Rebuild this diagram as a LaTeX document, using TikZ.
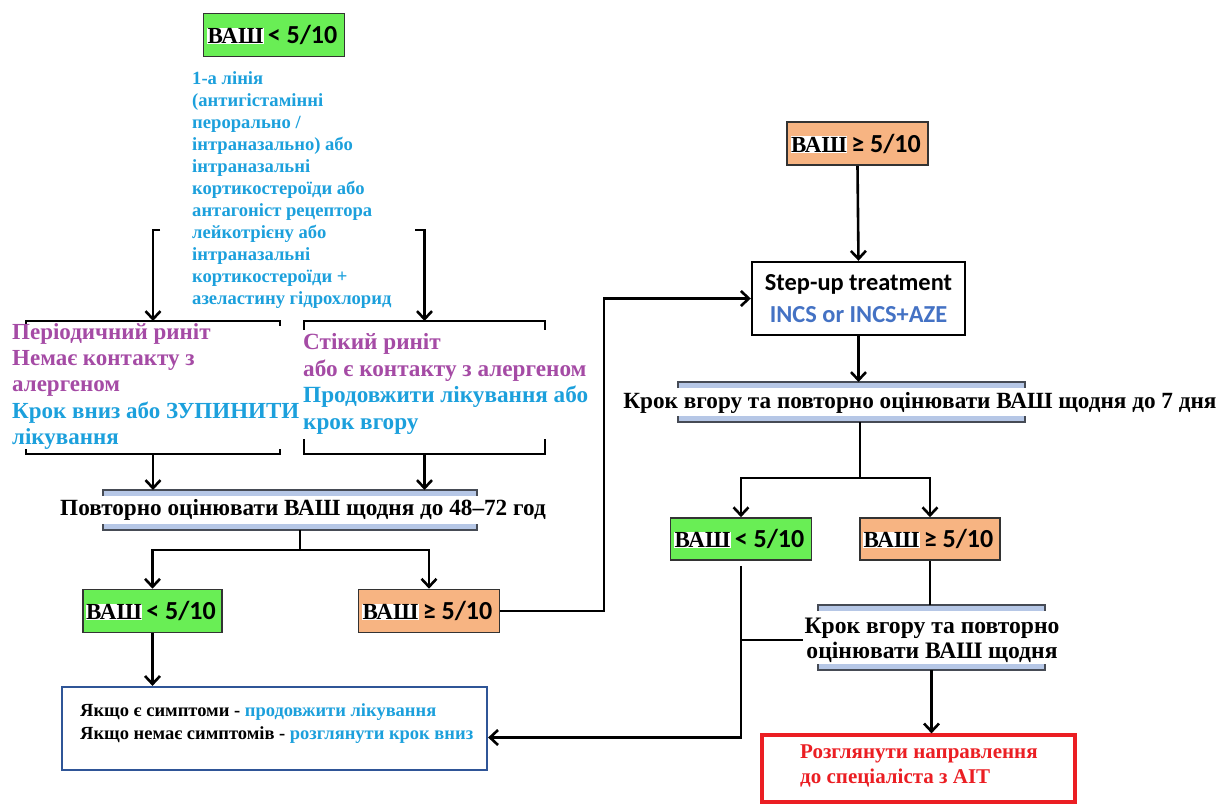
\documentclass[tikz,border=0pt]{standalone}
\usepackage{fontspec}
\setmainfont{Liberation Serif}
\newfontfamily\calfont{Carlito}
\usetikzlibrary{arrows.meta,calc}
\definecolor{txtblue}{RGB}{28,160,220}
\definecolor{txtpurple}{RGB}{165,75,165}
\definecolor{vgreen}{RGB}{105,238,85}
\definecolor{vorange}{RGB}{247,180,130}
\definecolor{barfill}{RGB}{182,199,230}
\definecolor{bardark}{RGB}{70,75,85}
\definecolor{boxblue}{RGB}{47,85,151}
\definecolor{incsblue}{RGB}{68,114,196}
\definecolor{alertred}{RGB}{235,30,35}
\newcommand\vashlbl{{\setlength\fboxsep{0.5pt}\colorbox{white}{\fontsize{23}{25}\selectfont\bfseries ВАШ}}}
\newcommand\vashlt{\makebox[134pt][l]{\vashlbl\hspace{4pt}{\calfont\bfseries\fontsize{26}{28}\selectfont < 5/10}}}
\newcommand\vashge{\makebox[134pt][l]{\vashlbl\hspace{4pt}{\calfont\bfseries\fontsize{26}{28}\selectfont ≥ 5/10}}}
\newcommand\barframe[1]{%
 \fill[barfill] (#1.north west) rectangle ([yshift=-6pt]#1.north east);
 \draw[bardark,line width=1.8pt] ([yshift=-6pt]#1.north west) -- (#1.north west) -- (#1.north east) -- ([yshift=-6pt]#1.north east);
 \fill[barfill] ([yshift=6pt]#1.south west) rectangle (#1.south east);
 \draw[bardark,line width=1.8pt] ([yshift=6pt]#1.south west) -- (#1.south west) -- (#1.south east) -- ([yshift=6pt]#1.south east);
}
\newcommand\bracketframe[3]{%
 \draw[ln] ([yshift=-#2]#1.north west) -- (#1.north west) -- (#1.north east) -- ([yshift=-#2]#1.north east);
 \draw[ln] ([yshift=#3]#1.south west) -- (#1.south west) -- (#1.south east) -- ([yshift=#3]#1.south east);
}
\begin{document}
\begin{tikzpicture}[x=1pt,y=-1pt,
  ln/.style={line width=2.6pt,black},
  arr/.style={ln,-{Straight Barb[length=8pt,width=15pt]}},
  vbox/.style={draw=black!80,line width=1.6pt,minimum width=141pt,minimum height=43pt,inner sep=0pt},
  greenbox/.style={vbox,fill=vgreen},
  orangebox/.style={vbox,fill=vorange},
  ghost/.style={inner sep=0pt,outer sep=0pt},
  bartext/.style={font=\fontsize{23.2}{25.5}\selectfont\bfseries,align=center,inner sep=1pt},
  leftblock/.style={inner sep=0pt,anchor=north west,align=left}
]
\useasboundingbox (0,0) rectangle (1219,804);

% top left
\node[greenbox] (g1) at (274,35) {\vashlt};
\node[leftblock,text=txtblue,font=\fontsize{18.6}{22}\selectfont\bfseries] (t1) at (192,71)
 {1-а лінія\\(антигістамінні\\перорально /\\інтраназально) або\\інтраназальні\\кортикостероїди або\\антагоніст рецептора\\лейкотрієну або\\інтраназальні\\кортикостероїди +\\азеластину гідрохлорид};

% bracket boxes
\node[ghost,minimum width=254pt,minimum height=133pt] (pbox) at (153,387.5) {};
\node[ghost,minimum width=241pt,minimum height=133pt] (sbox) at (424.5,387.5) {};
\bracketframe{pbox}{5pt}{5pt}
\bracketframe{sbox}{9pt}{15pt}
\node[leftblock,font=\fontsize{23}{26.3}\selectfont\bfseries] (ptxt) at (12,323)
 {\textcolor{txtpurple}{Періодичний риніт}\\\textcolor{txtpurple}{Немає контакту з}\\\textcolor{txtpurple}{алергеном}\\\textcolor{txtblue}{Крок вниз або ЗУПИНИТИ}\\\textcolor{txtblue}{лікування}};
\node[leftblock,font=\fontsize{23.2}{26.7}\selectfont\bfseries] (stxt) at (303,333)
 {\textcolor{txtpurple}{Стікий риніт}\\\textcolor{txtpurple}{або є контакту з алергеном}\\\textcolor{txtblue}{Продовжити лікування або}\\\textcolor{txtblue}{крок вгору}};
\coordinate (lb) at (160,230);
\coordinate (rb) at (415,230);
\draw[arr] (lb) -| (pbox.north);
\draw[arr] (rb) -| (sbox.north);

% bar 1
\node[ghost,minimum width=374pt,minimum height=40pt] (b1) at (290,510) {};
\barframe{b1}
\node[bartext] (b1t) at (303,510) {Повторно оцінювати ВАШ щодня до 48–72 год};
\draw[arr] (pbox.south) -- (pbox.south |- b1.north);
\draw[arr] (sbox.south) -- (sbox.south |- b1.north);

\node[greenbox,minimum width=139pt] (g2) at (152.5,611) {\vashlt};
\node[orangebox] (o1) at (429,611) {\vashge};
\coordinate (j1) at (300,550);
\draw[arr] (b1.south -| j1) -- (j1) -| (g2.north);
\draw[arr] (j1) -| (o1.north);

% blue box
\node[draw=boxblue,line width=2.2pt,fill=white,minimum width=425pt,minimum height=83pt,inner sep=0pt] (bb) at (274.5,728.5) {};
\node[leftblock,font=\fontsize{18.5}{23}\selectfont\bfseries] (bbt) at (80,703)
 {Якщо є симптоми - \textcolor{txtblue}{продовжити лікування}\\Якщо немає симптомів - \textcolor{txtblue}{розглянути крок вниз}};
\draw[arr] (g2.south) -- (g2.south |- bb.north);

% right column
\node[orangebox] (o2) at (857.5,143.5) {\vashge};
\node[draw=black,line width=2.4pt,fill=white,minimum width=213pt,minimum height=73pt,inner sep=0pt,align=center,
  font=\calfont\bfseries\fontsize{24.4}{32}\selectfont] (su) at (858.5,298.5)
 {Step-up treatment\\\textcolor{incsblue}{INCS or INCS+AZE}};
\draw[arr] (o2.south) -- (su.north);
\draw[arr] (o1.east) -| ($(su.west)+(-147,0)$) -- (su.west);

\node[ghost,minimum width=347pt,minimum height=40pt] (b2) at (851.5,402) {};
\barframe{b2}
\node[bartext] (b2t) at (920,403) {Крок вгору та повторно оцінювати ВАШ щодня до 7 дня};
\draw[arr] (su.south) -- (su.south |- b2.north);

\node[greenbox,minimum height=42pt] (g3) at (741,539) {\vashlt};
\node[orangebox,minimum width=140pt,minimum height=42pt] (o3) at (930,539) {\vashge};
\coordinate (j2) at (860,478);
\draw[arr] (b2.south -| j2) -- (j2) -| (g3.north);
\draw[arr] (j2) -| (o3.north);

\node[ghost,minimum width=227pt,minimum height=65pt] (b3) at (931.5,637.5) {};
\barframe{b3}
\node[bartext,font=\fontsize{23.6}{25}\selectfont\bfseries] (b3t) at (932,640) {Крок вгору та повторно\\оцінювати ВАШ щодня};
\draw[ln] (o3.south) -- (o3.south |- b3.north);
\draw[arr] ([yshift=-5pt]g3.south) |- ([yshift=-9pt]bb.east);
\draw[ln] (g3.south |- b3t.west) -- (b3t.west);

\node[draw=alertred,line width=3.2pt,fill=white,minimum width=313pt,minimum height=67pt,inner sep=0pt] (rd) at (918.5,768.5) {};
\node[leftblock,text=alertred,font=\fontsize{21}{25}\selectfont\bfseries] (rdt) at (800,745)
 {Розглянути направлення\\до спеціаліста з АІТ};
\draw[arr] (b3.south) -- (b3.south |- rd.north);
\end{tikzpicture}
\end{document}
